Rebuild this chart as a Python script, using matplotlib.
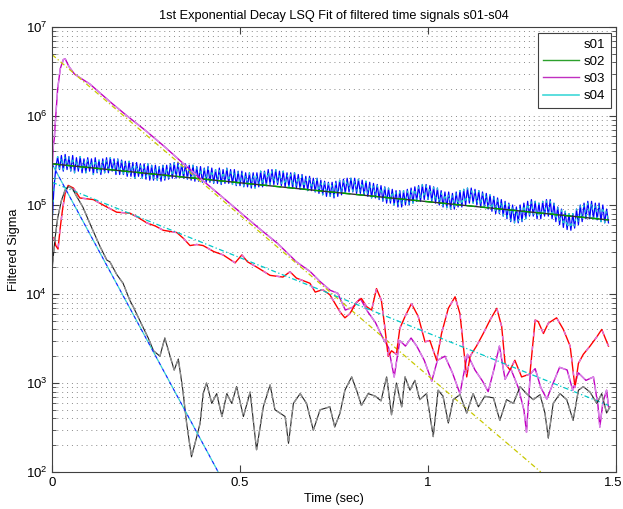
import numpy as np
import matplotlib
matplotlib.use("Agg")
import matplotlib.pyplot as plt
import matplotlib.transforms as mtransforms
from matplotlib.ticker import LogLocator, FuncFormatter, FixedLocator, NullFormatter
from matplotlib.lines import Line2D

plt.rcParams['font.family'] = ['Liberation Sans', 'DejaVu Sans']

# ---------------- data ----------------
title = "1st Exponential Decay LSQ Fit of filtered time signals s01-s04"
xlabel = "Time (sec)"
ylabel = "Filtered Sigma"
legend_labels = ["s01", "s02", "s03", "s04"]
x_ticks = [0, 0.5, 1, 1.5]

# s01 (black) filtered signal
s01_t = [0.000, 0.004, 0.008, 0.015, 0.025, 0.035, 0.045, 0.055, 0.065, 0.082, 0.100, 0.128,
         0.146, 0.154, 0.172, 0.189, 0.207, 0.216, 0.239, 0.256, 0.270, 0.287, 0.300, 0.314,
         0.325, 0.336, 0.348, 0.358, 0.371, 0.385, 0.394, 0.402, 0.411, 0.425, 0.438, 0.452,
         0.465, 0.478, 0.491, 0.509, 0.527, 0.544, 0.562, 0.580, 0.593, 0.606, 0.620, 0.629,
         0.642, 0.660, 0.677, 0.695, 0.713, 0.739, 0.752, 0.766, 0.779, 0.797, 0.810, 0.823,
         0.841, 0.860, 0.875, 0.890, 0.903, 0.916, 0.930, 0.939, 0.952, 0.965, 0.978, 0.996,
         1.014, 1.027, 1.040, 1.054, 1.067, 1.085, 1.103, 1.120, 1.134, 1.151, 1.174, 1.191,
         1.209, 1.227, 1.245, 1.262, 1.280, 1.298, 1.311, 1.320, 1.333, 1.351, 1.369, 1.386,
         1.400, 1.413, 1.431, 1.449, 1.462, 1.475, 1.484]
s01_v = [1.8e4, 2.8e4, 4.2e4, 7.1e4, 1.12e5, 1.48e5, 1.62e5, 1.51e5, 1.26e5, 9.5e4, 6.3e4, 3.4e4,
         2.4e4, 2.3e4, 1.66e4, 1.32e4, 8.5e3, 7.2e3, 4.5e3, 3.2e3, 2.3e3, 2.0e3, 3.2e3, 2.0e3,
         1.4e3, 1.86e3, 830, 355, 148, 250, 355, 760, 1000, 590, 760, 420,
         760, 590, 910, 420, 790, 178, 540, 950, 500, 460, 420, 210,
         590, 760, 590, 295, 500, 540, 320, 460, 830, 1170, 830, 560,
         760, 710, 630, 1170, 440, 1000, 540, 1170, 830, 1070, 650, 760,
         250, 830, 710, 355, 650, 740, 460, 760, 540, 710, 680, 380,
         650, 590, 910, 760, 650, 740, 460, 240, 590, 760, 650, 380,
         830, 910, 790, 590, 760, 460, 540]
s01_fit_t = [0.0, 0.442]
s01_fit_v = [2.9e5, 1.0e2]

# s02 (blue) filtered signal, sampled every 0.005 s
s02_dt = 0.005
s02_v = [6.0e4, 1.5e5, 2.6e5, 3.5e5, 2.5e5, 3.6e5, 2.4e5, 3.7e5, 2.5e5, 3.5e5,
         2.4e5, 3.6e5, 2.3e5, 3.4e5, 2.4e5, 3.5e5, 2.3e5, 3.3e5, 2.3e5, 3.4e5,
         2.4e5, 3.3e5, 2.2e5, 3.4e5, 2.3e5, 3.2e5, 2.2e5, 3.3e5, 2.3e5, 3.4e5,
         2.3e5, 3.4e5, 2.4e5, 3.3e5, 2.2e5, 3.3e5, 2.2e5, 3.2e5, 2.2e5, 3.1e5,
         2.1e5, 3.1e5, 2.1e5, 3.0e5, 2.0e5, 3.0e5, 2.1e5, 2.9e5, 2.0e5, 2.9e5,
         1.95e5, 2.9e5, 1.9e5, 2.8e5, 1.9e5, 2.8e5, 1.9e5, 2.7e5, 1.85e5, 2.8e5,
         1.9e5, 2.8e5, 1.95e5, 2.9e5, 2.0e5, 3.0e5, 2.0e5, 3.0e5, 2.05e5, 2.9e5,
         2.0e5, 2.9e5, 1.95e5, 2.8e5, 1.9e5, 2.8e5, 1.85e5, 2.7e5, 1.85e5, 2.7e5,
         1.8e5, 2.6e5, 1.8e5, 2.7e5, 1.8e5, 2.6e5, 1.75e5, 2.5e5, 1.75e5, 2.6e5,
         1.7e5, 2.5e5, 1.75e5, 2.6e5, 1.75e5, 2.5e5, 1.7e5, 2.5e5, 1.65e5, 2.4e5,
         1.65e5, 2.4e5, 1.6e5, 2.3e5, 1.6e5, 2.3e5, 1.55e5, 2.3e5, 1.55e5, 2.3e5,
         1.6e5, 2.4e5, 1.6e5, 2.4e5, 1.65e5, 2.5e5, 1.7e5, 2.5e5, 1.7e5, 2.5e5,
         1.7e5, 2.4e5, 1.65e5, 2.4e5, 1.6e5, 2.3e5, 1.6e5, 2.3e5, 1.55e5, 2.3e5,
         1.55e5, 2.2e5, 1.5e5, 2.2e5, 1.5e5, 2.1e5, 1.45e5, 2.1e5, 1.45e5, 2.0e5,
         1.4e5, 2.0e5, 1.35e5, 1.9e5, 1.3e5, 1.85e5, 1.25e5, 1.8e5, 1.25e5, 1.8e5,
         1.2e5, 1.85e5, 1.25e5, 1.9e5, 1.3e5, 1.95e5, 1.35e5, 2.0e5, 1.4e5, 2.0e5,
         1.4e5, 2.0e5, 1.35e5, 1.95e5, 1.35e5, 1.9e5, 1.3e5, 1.85e5, 1.25e5, 1.8e5,
         1.2e5, 1.75e5, 1.2e5, 1.7e5, 1.15e5, 1.65e5, 1.1e5, 1.6e5, 1.05e5, 1.55e5,
         1.05e5, 1.5e5, 1.0e5, 1.45e5, 9.5e4, 1.45e5, 9.5e4, 1.45e5, 1.0e5, 1.5e5,
         1.0e5, 1.55e5, 1.05e5, 1.6e5, 1.1e5, 1.65e5, 1.1e5, 1.7e5, 1.15e5, 1.7e5,
         1.15e5, 1.65e5, 1.1e5, 1.6e5, 1.05e5, 1.55e5, 1.0e5, 1.45e5, 9.5e4, 1.4e5,
         9.3e4, 1.4e5, 9.0e4, 1.35e5, 9.0e4, 1.4e5, 9.5e4, 1.45e5, 9.5e4, 1.5e5,
         1.0e5, 1.55e5, 1.05e5, 1.55e5, 1.05e5, 1.5e5, 1.0e5, 1.45e5, 9.5e4, 1.4e5,
         9.5e4, 1.35e5, 9.0e4, 1.3e5, 8.5e4, 1.25e5, 8.0e4, 1.2e5, 8.0e4, 1.15e5,
         7.5e4, 1.1e5, 7.0e4, 1.05e5, 6.5e4, 1.0e5, 6.3e4, 9.5e4, 6.3e4, 1.0e5,
         6.5e4, 1.05e5, 7.0e4, 1.1e5, 7.5e4, 1.15e5, 7.5e4, 1.1e5, 7.0e4, 1.05e5,
         7.0e4, 1.1e5, 7.5e4, 1.15e5, 7.5e4, 1.15e5, 7.0e4, 1.05e5, 6.5e4, 9.5e4,
         6.0e4, 9.0e4, 5.6e4, 8.5e4, 5.3e4, 8.0e4, 5.2e4, 8.0e4, 5.5e4, 9.0e4,
         6.0e4, 1.0e5, 6.5e4, 1.05e5, 7.0e4, 1.1e5, 7.0e4, 1.1e5, 7.0e4, 1.05e5,
         6.8e4, 1.05e5, 6.5e4, 1.0e5, 6.3e4, 9.0e4, 6.3e4]
s02_fit_t = [0.0, 1.48]
s02_fit_v = [2.9e5, 6.8e4]

# s03 (magenta) filtered signal
s03_t = [0.000, 0.003, 0.006, 0.010, 0.015, 0.022, 0.030, 0.035, 0.045, 0.060, 0.080, 0.100,
         0.130, 0.160, 0.200, 0.250, 0.300, 0.350, 0.400, 0.450, 0.500, 0.550, 0.600, 0.650,
         0.687, 0.713, 0.740, 0.760, 0.780, 0.800, 0.820, 0.840, 0.860, 0.880, 0.895, 0.910,
         0.925, 0.940, 0.955, 0.970, 0.990, 1.010, 1.025, 1.045, 1.065, 1.085, 1.105, 1.125,
         1.145, 1.160, 1.175, 1.190, 1.205, 1.220, 1.240, 1.255, 1.262, 1.272, 1.285, 1.300,
         1.316, 1.335, 1.350, 1.370, 1.385, 1.400, 1.420, 1.440, 1.452, 1.457, 1.465, 1.475,
         1.480]
s03_v = [2.2e5, 4.5e5, 5.5e5, 1.0e6, 2.0e6, 3.4e6, 4.3e6, 4.4e6, 3.6e6, 2.95e6, 2.6e6, 2.3e6,
         1.78e6, 1.38e6, 1.0e6, 6.8e5, 4.5e5, 2.9e5, 1.9e5, 1.26e5, 8.3e4, 5.5e4, 3.7e4, 2.3e4,
         1.78e4, 1.38e4, 1.1e4, 1.02e4, 6.6e3, 7.1e3, 8.9e3, 6.3e3, 4.8e3, 3.2e3, 2.5e3, 1.17e3,
         3.0e3, 2.6e3, 3.2e3, 2.6e3, 1.8e3, 1.05e3, 1.8e3, 2.0e3, 1.3e3, 760, 2.1e3, 1.4e3,
         1.05e3, 800, 1.4e3, 2.6e3, 1.1e3, 1.45e3, 890, 500, 280, 1.26e3, 1.45e3, 890,
         660, 1.05e3, 1.5e3, 1.4e3, 830, 1.3e3, 1.07e3, 1.17e3, 560, 320, 600, 830,
         540]
s03_fit_t = [0.0, 1.30]
s03_fit_v = [4.9e6, 1.0e2]

# s04 (red) filtered signal
s04_t = [0.005, 0.010, 0.016, 0.022, 0.028, 0.035, 0.043, 0.057, 0.074, 0.110, 0.136, 0.172,
         0.207, 0.230, 0.252, 0.275, 0.296, 0.332, 0.350, 0.367, 0.385, 0.402, 0.430, 0.455,
         0.487, 0.505, 0.520, 0.545, 0.580, 0.614, 0.633, 0.650, 0.686, 0.700, 0.720, 0.739,
         0.766, 0.779, 0.792, 0.810, 0.823, 0.837, 0.850, 0.863, 0.876, 0.885, 0.894, 0.903,
         0.916, 0.925, 0.939, 0.956, 0.974, 0.992, 1.005, 1.023, 1.036, 1.054, 1.072, 1.085,
         1.094, 1.103, 1.112, 1.129, 1.147, 1.165, 1.183, 1.196, 1.205, 1.218, 1.231, 1.249,
         1.271, 1.285, 1.293, 1.307, 1.320, 1.342, 1.360, 1.378, 1.391, 1.400, 1.413, 1.431,
         1.449, 1.462, 1.480]
s04_v = [4.3e4, 3.5e4, 3.2e4, 5.6e4, 8.9e4, 1.35e5, 1.66e5, 1.55e5, 1.2e5, 1.15e5, 1.0e5, 8.3e4,
         8.1e4, 7.2e4, 6.3e4, 5.8e4, 5.2e4, 4.9e4, 4.2e4, 3.5e4, 3.6e4, 3.5e4, 3.0e4, 2.75e4,
         2.24e4, 2.75e4, 2.3e4, 2.0e4, 1.62e4, 1.55e4, 1.78e4, 1.51e4, 1.32e4, 1.05e4, 1.12e4, 9.8e3,
         6.3e3, 5.4e3, 6.0e3, 8.1e3, 8.9e3, 7.2e3, 6.6e3, 1.15e4, 8.5e3, 4.3e3, 2.0e3, 2.3e3,
         2.1e3, 4.1e3, 5.6e3, 7.8e3, 5.6e3, 2.9e3, 3.0e3, 1.8e3, 3.6e3, 6.9e3, 9.3e3, 6.0e3,
         2.6e3, 1.17e3, 2.0e3, 2.6e3, 3.6e3, 5.1e3, 6.9e3, 4.3e3, 1.66e3, 1.4e3, 1.8e3, 1.17e3,
         1.26e3, 5.1e3, 4.9e3, 3.6e3, 4.7e3, 5.4e3, 4.0e3, 2.6e3, 890, 1.66e3, 2.1e3, 2.6e3,
         3.3e3, 4.0e3, 2.6e3]
s04_fit_t = [0.0, 1.48]
s04_fit_v = [1.8e5, 5.6e2]

# ---------------- plot ----------------
fig = plt.figure(figsize=(6.23, 5.09), dpi=100)
ax = fig.add_axes([52/623, 1-472/509, 564/623, 445/509])

s02_t = np.arange(len(s02_v)) * s02_dt

# s02 blue signal + fit
ax.plot(s02_t, s02_v, color='#0000ff', lw=0.9)
ax.plot(s02_t, s02_v, color='#20c8d0', lw=0.9, ls=(0, (2, 7)))
ax.plot(s02_fit_t, s02_fit_v, color='#303030', lw=1.0)
ax.plot(s02_fit_t, s02_fit_v, color='#00a000', lw=1.0, ls=(0, (6, 4)))

# s03 magenta
ax.plot(s03_t, s03_v, color='#c000c0', lw=1.0)
ax.plot(s03_t, s03_v, color='#d888e8', lw=1.0, ls=(0, (5, 4)))
ax.plot(s03_fit_t, s03_fit_v, color='#c8c800', lw=0.9, ls=(0, (4, 2, 1, 2)))

# s04 red
ax.plot(s04_t, s04_v, color='#ff0000', lw=1.0)
ax.plot(s04_t, s04_v, color='#e070e0', lw=1.0, ls=(0, (3, 7)))
ax.plot(s04_fit_t, s04_fit_v, color='#00c8c8', lw=0.9, ls=(0, (4, 2, 1, 2)))

# s01 black
ax.plot(s01_t, s01_v, color='#202020', lw=0.8)
ax.plot(s01_t, s01_v, color='#909090', lw=1.0, ls=(0, (4, 3)))
ax.plot(s01_fit_t, s01_fit_v, color='#1030ff', lw=0.9, ls=(0, (3, 3)))
ax.plot(s01_fit_t, s01_fit_v, color='#30d0d0', lw=0.9, ls=(3, (3, 3)))

ax.set_yscale('log')
ax.set_xlim(0, 1.5)
ax.set_ylim(1e2, 1e7)
ax.xaxis.set_major_locator(FixedLocator(x_ticks))
ax.xaxis.set_major_formatter(FuncFormatter(lambda v, p: "%g" % v))
ax.yaxis.set_major_locator(LogLocator(base=10, numticks=10))
ax.yaxis.set_minor_locator(LogLocator(base=10, subs=np.arange(2, 10), numticks=20))
ax.yaxis.set_minor_formatter(NullFormatter())

ax.tick_params(which='both', direction='in', top=True, right=True, labelsize=9.5,
               color='#404040')
ax.tick_params(which='major', length=5)
ax.tick_params(which='minor', length=3)
for s in ax.spines.values():
    s.set_color('#404040')
    s.set_linewidth(0.8)

ax.grid(True, axis='y', which='both', color='#8a8a8a', lw=0.7, ls=(0, (1, 4)))
ax.grid(False, axis='x')

ax.set_title(title, fontsize=9.2, pad=6)
ax.set_xlabel(xlabel, fontsize=9.2, labelpad=3)
ax.set_ylabel(ylabel, fontsize=9.2, labelpad=4)

# keep last x tick label inside the figure (right-aligned at the edge)
fig.canvas.draw()
last = ax.get_xticklabels()[-1]
last.set_ha('right')
last.set_transform(last.get_transform() +
                   mtransforms.ScaledTranslation(6/100, 0, fig.dpi_scale_trans))

handles = [Line2D([], [], color='none', lw=1),
           Line2D([], [], color='#2ca02c', lw=1),
           Line2D([], [], color='#c030c0', lw=1),
           Line2D([], [], color='#40d8d8', lw=1.2)]
leg = ax.legend(handles, legend_labels, loc='upper right', fontsize=9.5,
                handlelength=2.7, handletextpad=0.4, borderpad=0.4, labelspacing=0.38,
                borderaxespad=0.0, fancybox=False, framealpha=1, edgecolor='#404040',
                bbox_to_anchor=(0.991, 0.9865))
leg.get_frame().set_linewidth(0.8)

fig.savefig("out.png", dpi=100)
